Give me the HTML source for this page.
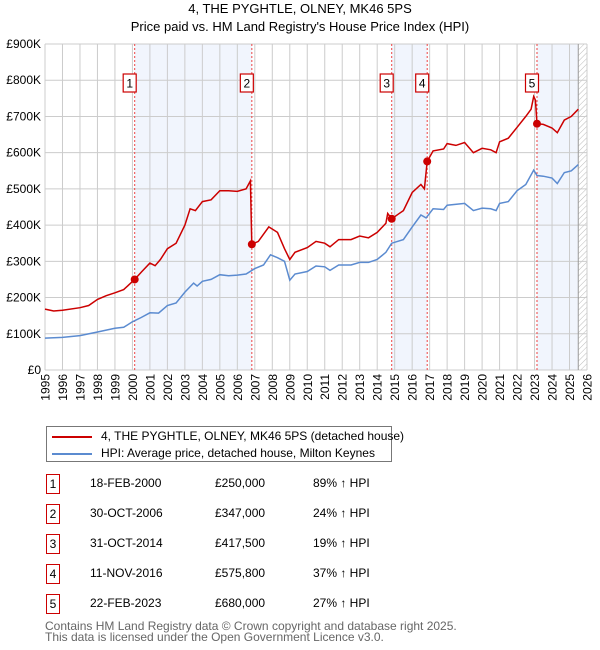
<!DOCTYPE html>
<html><head><meta charset="utf-8"><style>
body{margin:0;background:#fff;font-family:"Liberation Sans","DejaVu Sans",sans-serif;}
#wrap{position:relative;width:600px;height:650px;overflow:hidden}
.t{position:absolute;font-size:12px;color:#000;white-space:nowrap}
.box{position:absolute;border:1.3px solid #c00;width:12px;height:18px;text-align:center;font-size:12px;line-height:18px}
</style></head><body><div id="wrap">
<div class="t" style="left:0;width:600px;text-align:center;top:1px;font-size:13px">4, THE PYGHTLE, OLNEY, MK46 5PS</div>
<div class="t" style="left:0;width:600px;text-align:center;top:19px;font-size:13px">Price paid vs. HM Land Registry's House Price Index (HPI)</div>
<svg id="chart" width="600" height="410" style="position:absolute;left:0;top:0"></svg>
<div style="position:absolute;left:46px;top:426px;width:344px;height:34px;border:1px solid #777">
<div style="position:absolute;left:5px;top:9px;width:40px;height:2px;background:#c00"></div>
<div class="t" style="left:54px;top:2px">4, THE PYGHTLE, OLNEY, MK46 5PS (detached house)</div>
<div style="position:absolute;left:5px;top:26px;width:40px;height:2px;background:#5b8bd0"></div>
<div class="t" style="left:54px;top:19px">HPI: Average price, detached house, Milton Keynes</div>
</div>
<div id="table"></div>
<div class="t" style="left:45px;top:619px;color:#666">Contains HM Land Registry data © Crown copyright and database right 2025.</div>
<div class="t" style="left:45px;top:630px;color:#666">This data is licensed under the Open Government Licence v3.0.</div>
</div>
<script>
const saleNums=["1","2","3","4","5"];
const saleDates=["18-FEB-2000","30-OCT-2006","31-OCT-2014","11-NOV-2016","22-FEB-2023"];
const salePrices=["£250,000","£347,000","£417,500","£575,800","£680,000"];
const salePct=["89% ↑ HPI","24% ↑ HPI","19% ↑ HPI","37% ↑ HPI","27% ↑ HPI"];
const saleT=[2000.13,2006.83,2014.83,2016.86,2023.14];
const saleV=[250,347,417.5,575.8,680];
const yTicks=[0,100,200,300,400,500,600,700,800,900];
const yTickLabels=["£0","£100K","£200K","£300K","£400K","£500K","£600K","£700K","£800K","£900K"];
const years=[1995,1996,1997,1998,1999,2000,2001,2002,2003,2004,2005,2006,2007,2008,2009,2010,2011,2012,2013,2014,2015,2016,2017,2018,2019,2020,2021,2022,2023,2024,2025,2026];
const redT=[1995,1995.5,1996,1997,1997.5,1998,1998.5,1999,1999.5,2000.13,2000.5,2001,2001.3,2001.6,2002,2002.5,2003,2003.3,2003.6,2004,2004.5,2005,2005.5,2006,2006.5,2006.75,2006.83,2007.2,2007.8,2008.3,2008.7,2009,2009.3,2010,2010.5,2011,2011.3,2011.8,2012.5,2013,2013.5,2014,2014.5,2014.6,2014.83,2015.2,2015.5,2016,2016.5,2016.7,2016.86,2017.2,2017.8,2018,2018.5,2019,2019.5,2020,2020.5,2020.8,2021,2021.5,2022,2022.5,2022.8,2022.95,2023.05,2023.14,2023.5,2024,2024.3,2024.7,2025.1,2025.5];
const redV=[168,163,165,172,178,195,205,213,222,250,270,295,288,305,335,350,400,445,440,465,470,495,495,493,500,522,347,355,395,380,335,305,325,338,355,350,340,360,360,370,365,380,405,432,417.5,430,440,490,512,500,575.8,605,610,625,620,628,600,612,608,600,630,640,670,700,720,755,745,680,678,668,655,690,700,720];
const hpiT=[1995,1996,1997,1998,1999,1999.5,2000,2000.5,2001,2001.5,2002,2002.5,2003,2003.5,2003.7,2004,2004.5,2005,2005.5,2006,2006.5,2007,2007.5,2007.9,2008.3,2008.7,2009,2009.3,2010,2010.5,2011,2011.3,2011.8,2012.5,2013,2013.5,2014,2014.5,2014.83,2015.5,2016,2016.5,2016.8,2017.2,2017.8,2018,2019,2019.5,2020,2020.5,2020.8,2021,2021.5,2022,2022.5,2022.95,2023.14,2023.5,2024,2024.3,2024.7,2025.1,2025.5];
const hpiV=[88,90,95,105,115,118,133,145,158,157,178,185,215,240,232,245,250,263,260,262,265,280,290,318,310,300,248,265,272,287,285,275,290,290,297,297,305,325,350,360,395,428,420,445,443,455,460,440,447,445,440,460,465,495,512,552,537,535,530,515,545,550,567];
const X0=45,X1=587,Y0=370,Y1=44,dataEnd=2025.5;
const x=t=>X0+(t-1995)/(2026-1995)*(X1-X0);
const y=v=>Y0-v/900*(Y0-Y1);
const NS="http://www.w3.org/2000/svg";
const svg=document.getElementById('chart');
function mk(tag,at,parent){const e=document.createElementNS(NS,tag);for(const k in at)e.setAttribute(k,at[k]);(parent||svg).appendChild(e);return e;}
const defs=mk('defs',{});
const pat=mk('pattern',{id:'hatch',width:4,height:4,patternUnits:'userSpaceOnUse',patternTransform:'rotate(45)'},defs);
mk('line',{x1:0,y1:0,x2:0,y2:4,stroke:'#bbb','stroke-width':1},pat);
const spans=[[saleT[0],saleT[1]],[saleT[2],saleT[3]],[saleT[4],dataEnd]];
spans.forEach((s,i)=>{const r=mk('rect',{x:x(s[0]),y:Y1,width:x(s[1])-x(s[0]),height:Y0-Y1,fill:'#eef3fc',opacity:0.8});
});
const h=mk('rect',{x:x(dataEnd),y:Y1,width:X1-x(dataEnd),height:Y0-Y1,fill:'url(#hatch)'});

years.forEach(yr=>{const l=mk('line',{x1:x(yr),x2:x(yr),y1:Y1,y2:Y0,stroke:'#ccc','stroke-width':1});

const t=mk('text',{x:0,y:0,'text-anchor':'end','font-size':12,fill:'#000',transform:`translate(${x(yr)+4.5},374) rotate(-90)`});t.textContent=yr;
});
yTicks.forEach((v,i)=>{const l=mk('line',{x1:X0,x2:X1,y1:y(v),y2:y(v),stroke:'#ccc','stroke-width':1});

const t=mk('text',{x:X0-4,y:y(v)+4,'text-anchor':'end','font-size':12,fill:'#000'});t.textContent=yTickLabels[i];
});
mk('line',{x1:x(dataEnd),x2:x(dataEnd),y1:Y1,y2:Y0,stroke:'#999','stroke-width':1});
saleT.forEach((t,i)=>{const l=mk('line',{x1:x(t),x2:x(t),y1:Y1,y2:Y0,stroke:'#e44','stroke-width':1,'stroke-dasharray':'2,2'});
});
const line=(T,V)=>T.map((t,i)=>(i?'L':'M')+x(t).toFixed(1)+','+y(V[i]).toFixed(1)).join('');
const hp=mk('path',{d:line(hpiT,hpiV),fill:'none',stroke:'#5b8bd0','stroke-width':1.5});

const rp=mk('path',{d:line(redT,redV),fill:'none',stroke:'#c00','stroke-width':1.5});

saleT.forEach((t,i)=>{const c=mk('circle',{cx:x(t),cy:y(saleV[i]),r:4,fill:'#c00'});

const g=mk('g',{});
mk('rect',{x:x(t)-11.5,y:74,width:13,height:18,fill:'#fff',stroke:'#c00','stroke-width':1.2},g);
const tx=mk('text',{x:x(t)-5,y:87.5,'text-anchor':'middle','font-size':12},g);tx.textContent=saleNums[i];});
const tb=document.getElementById('table');
saleNums.forEach((n,i)=>{const top=474+i*30;
const r=document.createElement('div');
r.innerHTML=`<div class="box" style="left:46px;top:${top}px">${n}</div><div class="t" style="left:90px;top:${top+2}px">${saleDates[i]}</div><div class="t" style="left:215px;top:${top+2}px">${salePrices[i]}</div><div class="t" style="left:313px;top:${top+2}px">${salePct[i]}</div>`;
tb.appendChild(r);});
</script></body></html>
